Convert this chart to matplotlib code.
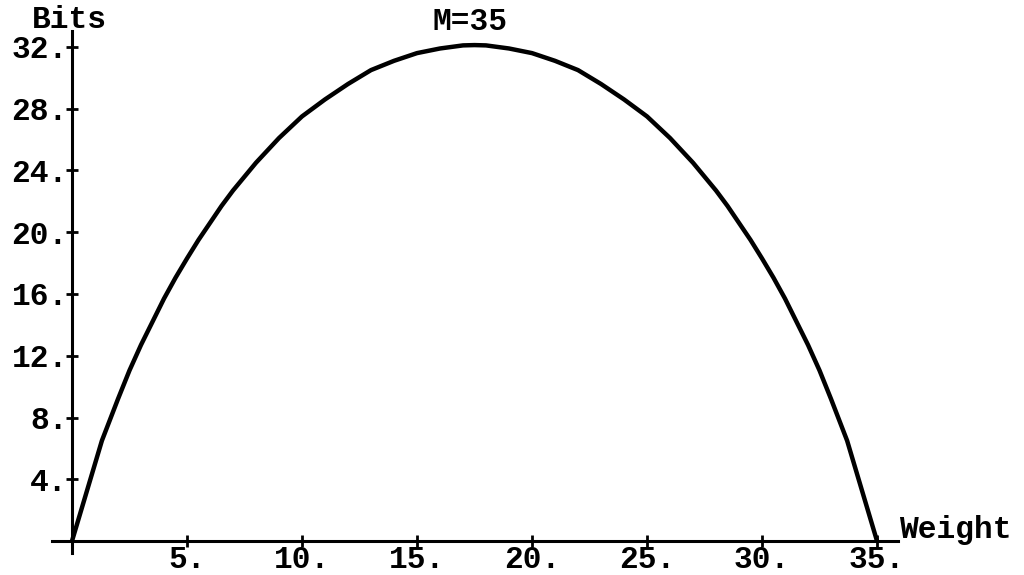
import matplotlib
matplotlib.use("Agg")
import matplotlib.pyplot as plt

# log2 of the number of weight-w words of length M=35
weights = [0, 1.3, 2, 2.5, 3, 3.5, 4, 4.5, 5, 5.5, 6, 6.5, 7, 8, 9, 10, 11, 12, 13,
           14, 15, 16, 17, 17.5, 18, 19, 20, 21, 22, 23, 24, 25, 26, 27, 28,
           28.5, 29, 29.5, 30, 30.5, 31, 31.5, 32, 32.5, 33, 33.7, 35]
bits = [0, 6.5, 9.2, 11.05, 12.7, 14.2, 15.7, 17.05, 18.3, 19.5, 20.6, 21.7,
        22.7, 24.5, 26.1, 27.5, 28.6, 29.6, 30.5,
        31.1, 31.6, 31.9, 32.1, 32.12, 32.1, 31.9, 31.6, 31.1, 30.5, 29.6, 28.6,
        27.5, 26.1, 24.5, 22.7,
        21.7, 20.6, 19.5, 18.3, 17.05, 15.7, 14.2, 12.7, 11.05, 9.2, 6.5, 0]

x_ticks = [5, 10, 15, 20, 25, 30, 35]
y_ticks = [4, 8, 12, 16, 20, 24, 28, 32]
x_labels = [f"{t}." for t in x_ticks]
y_labels = [f"{t}." for t in y_ticks]

FONT = dict(family="Liberation Mono", weight="bold", size=22.5)

fig = plt.figure(figsize=(10.24, 5.75), dpi=100)
ax = fig.add_axes([0, 0, 1, 1])
ax.set_xlim(-3.13, 41.39)
ax.set_ylim(-2.2, 35.04)

ax.plot(weights, bits, color="black", lw=3.2, solid_capstyle="butt",
        solid_joinstyle="round")

# axes crossing at the origin
for side in ("top", "right"):
    ax.spines[side].set_visible(False)
ax.spines["left"].set_position(("data", 0))
ax.spines["bottom"].set_position(("data", 0))
ax.spines["left"].set_bounds(-0.8, 33.0)
ax.spines["bottom"].set_bounds(-0.87, 35.9)
for side in ("left", "bottom"):
    ax.spines[side].set_linewidth(2.2)

ax.set_xticks(x_ticks, x_labels)
ax.set_yticks(y_ticks, y_labels)
ax.tick_params(direction="inout", length=8, width=2, pad=-1)
for lab in ax.get_xticklabels() + ax.get_yticklabels():
    lab.set_fontproperties(FONT)
    lab.set_fontsize(FONT["size"])

ax.text(0.459, 0.962, "M=35", transform=ax.transAxes, ha="center", va="center", **FONT)
ax.text(0.068, 0.965, "Bits", transform=ax.transAxes, ha="center", va="center", **FONT)
ax.text(0.878, 0.078, "Weight", transform=ax.transAxes, ha="left", va="center", **FONT)

fig.savefig("out.png", dpi=100)
